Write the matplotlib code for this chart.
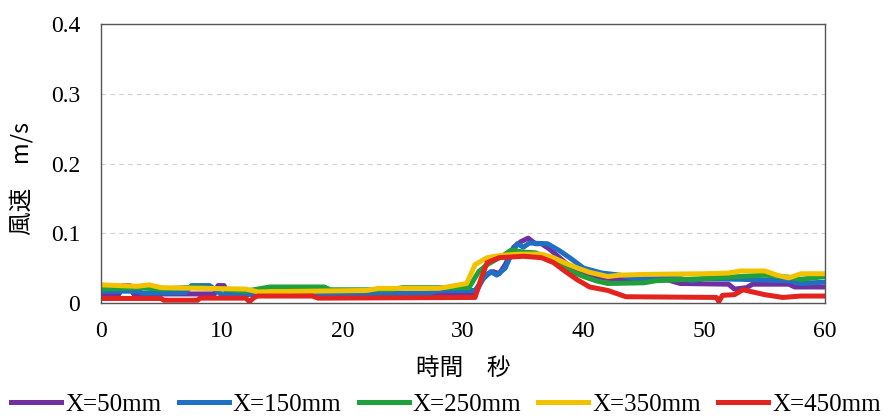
import numpy as np
import matplotlib.pyplot as plt
import matplotlib

# Fonts: serif for numbers, Noto CJK for the Japanese labels
matplotlib.rcParams.update({'font.size': 14,
                            'font.family': ['Liberation Serif', 'Noto Sans CJK JP']})

# Wind speed (m/s) measured at five distances, breakpoints of time (s) and value
t_50 = [0, 1.5, 1.8, 2.4, 2.7, 9.4, 9.7, 10.2, 10.5, 31, 31.8, 32.5, 33, 33.5, 34.2, 34.8,
        35.4, 36, 36.5, 37.2, 38, 39, 40, 41, 44, 47, 48, 52, 52.5, 53.5, 54, 57, 57.5, 60]
v_50 = [0.013, 0.013, 0.025, 0.025, 0.013, 0.013, 0.025, 0.025, 0.013, 0.013, 0.04, 0.045,
        0.042, 0.055, 0.08, 0.088, 0.093, 0.085, 0.085, 0.077, 0.065, 0.05, 0.04, 0.036,
        0.034, 0.033, 0.028, 0.027, 0.02, 0.022, 0.027, 0.027, 0.023, 0.023]

t_150 = [0, 3, 3.5, 7, 7.5, 9, 10, 27, 28, 31, 31.7, 32.3, 32.8, 33.5, 34, 34.5, 35, 35.5,
         37, 38, 39, 40, 41.5, 43, 44, 48, 49, 50, 53, 57, 58, 60]
v_150 = [0.017, 0.017, 0.014, 0.015, 0.025, 0.025, 0.012, 0.014, 0.018, 0.018, 0.035, 0.045,
         0.04, 0.05, 0.07, 0.085, 0.08, 0.086, 0.085, 0.075, 0.063, 0.05, 0.043, 0.04, 0.036,
         0.035, 0.032, 0.035, 0.034, 0.032, 0.028, 0.03]

t_250 = [0, 3, 5, 8, 10, 12, 14, 18.5, 19, 24, 25, 30.5, 31.3, 32, 32.5, 33.5, 34, 35, 36,
         37, 38, 39, 40, 41, 42, 45, 46, 50, 53, 55, 57, 58, 60]
v_250 = [0.02, 0.022, 0.02, 0.023, 0.02, 0.017, 0.023, 0.023, 0.019, 0.019, 0.022, 0.022,
         0.045, 0.055, 0.06, 0.07, 0.076, 0.073, 0.072, 0.065, 0.055, 0.045, 0.038, 0.032,
         0.028, 0.029, 0.032, 0.035, 0.038, 0.04, 0.037, 0.034, 0.038]

t_350 = [0, 3, 4, 5, 12, 13, 22, 23, 28, 29, 30.3, 31, 31.5, 32, 33, 34.5, 36.5, 37.5, 38.5,
         39.5, 40.5, 42, 43, 45, 50, 52, 53, 55, 56, 57, 58, 60]
v_350 = [0.026, 0.024, 0.026, 0.022, 0.02, 0.016, 0.018, 0.021, 0.021, 0.024, 0.028, 0.055,
         0.06, 0.065, 0.068, 0.07, 0.07, 0.065, 0.057, 0.05, 0.044, 0.038, 0.04, 0.041,
         0.042, 0.043, 0.046, 0.046, 0.04, 0.036, 0.042, 0.042]

t_450 = [0, 5, 5.2, 8, 8.2, 12, 12.3, 12.7, 13, 17.5, 18, 31, 31.5, 32, 33, 35, 36.5, 37.5,
         38.5, 39.5, 40.5, 42, 43.5, 51, 51.2, 51.5, 52.5, 53.2, 55, 56.5, 58, 60]
v_450 = [0.0065, 0.0065, 0.004, 0.004, 0.007, 0.007, 0.002, 0.008, 0.01, 0.01, 0.007, 0.008,
         0.035, 0.058, 0.065, 0.067, 0.065, 0.058, 0.045, 0.033, 0.023, 0.018, 0.009, 0.008,
         0.002, 0.011, 0.012, 0.019, 0.012, 0.008, 0.01, 0.01]

labels = ['X=50mm', 'X=150mm', 'X=250mm', 'X=350mm', 'X=450mm']
colors = ['#7030a0', '#1f6fc2', '#1fa03a', '#f2c200', '#e2231e']
series = [(t_50, v_50), (t_150, v_150), (t_250, v_250), (t_350, v_350), (t_450, v_450)]

fig = plt.figure(figsize=(8.92, 4.19), dpi=100)
ax = fig.add_axes([0.1132, 0.2768, 0.8117, 0.6659])

for (t, v), lab, c in zip(series, labels, colors):
    ax.plot(t, v, color=c, lw=3.6, label=lab, solid_joinstyle='round')

ax.set_xlim(0, 60)
ax.set_ylim(0, 0.4)
ax.set_xticks(np.arange(0, 61, 10))
ax.set_yticks([0, 0.1, 0.2, 0.3, 0.4])
ax.set_yticklabels(['0', '0.1', '0.2', '0.3', '0.4'])
ax.tick_params(length=0, labelsize=17)
ax.tick_params(axis='x', pad=13)
ax.tick_params(axis='y', pad=15)
ax.yaxis.grid(True, color='#cfcfcf', ls=(0, (4, 4)), lw=0.8)
ax.set_axisbelow(True)
for s in ax.spines.values():
    s.set_color('#555555')
    s.set_linewidth(1.0)

ax.set_xlabel('時間　秒', fontsize=17,
              family=['Noto Sans CJK JP', 'Liberation Serif'])
ax.set_ylabel('風速　m/s', fontsize=17,
              family=['Noto Sans CJK JP', 'Liberation Serif'])
ax.xaxis.set_label_coords(0.5, -0.233)
ax.yaxis.set_label_coords(-0.109, 0.448)
ax.xaxis.label.set_va('center')
ax.yaxis.label.set_va('center')

fig.legend(loc='center', bbox_to_anchor=(0.5, 0.035), ncol=5, frameon=False,
           fontsize=18, handlelength=2.0, handletextpad=0.15, columnspacing=0.7)

fig.savefig('out.png', dpi=100)
